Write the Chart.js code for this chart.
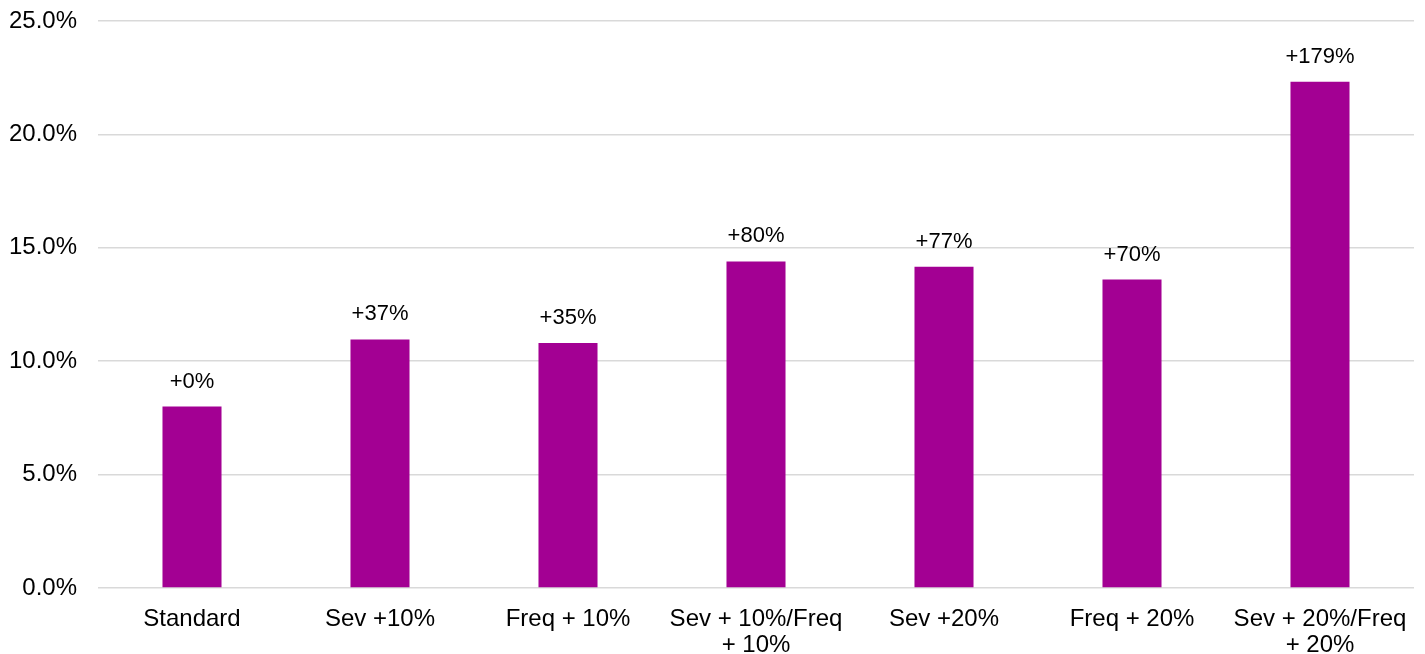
<!DOCTYPE html>
<html>
<head>
<meta charset="utf-8">
<script src="https://cdn.jsdelivr.net/npm/chart.js@4"></script>
<style>
  html, body { margin: 0; padding: 0; background: #fff; }
  #wrap { width: 1425px; height: 654px; }
</style>
</head>
<body>
<div id="wrap"><canvas id="c"></canvas></div>
<script>
const categories = [
  'Standard',
  'Sev +10%',
  'Freq + 10%',
  ['Sev + 10%/Freq', '+ 10%'],
  'Sev +20%',
  'Freq + 20%',
  ['Sev + 20%/Freq', '+ 20%']
];
const lossRatio = [8.0, 10.96, 10.8, 14.4, 14.16, 13.6, 22.32];
const changeLabels = ['+0%', '+37%', '+35%', '+80%', '+77%', '+70%', '+179%'];
const yTicks = [0, 5, 10, 15, 20, 25];

const FONT = "'Liberation Sans', Arial, sans-serif";

// Writes the change label above each bar
const barLabels = {
  id: 'barLabels',
  afterDatasetsDraw(chart) {
    const ctx = chart.ctx;
    const meta = chart.getDatasetMeta(0);
    ctx.save();
    ctx.font = '22px ' + FONT;
    ctx.fillStyle = '#000';
    ctx.textAlign = 'center';
    ctx.textBaseline = 'middle';
    meta.data.forEach((bar, i) => {
      ctx.fillText(changeLabels[i], bar.x, bar.y - 25);
    });
    ctx.restore();
  }
};

new Chart(document.getElementById('c'), {
  type: 'bar',
  data: {
    labels: categories,
    datasets: [{
      data: lossRatio,
      backgroundColor: '#A30093',
      barPercentage: 0.314,
      categoryPercentage: 1
    }]
  },
  options: {
    responsive: true,
    maintainAspectRatio: false,
    animation: false,
    layout: { padding: { top: 21, right: 11, left: 0, bottom: 0 } },
    plugins: { legend: { display: false }, tooltip: { enabled: false } },
    scales: {
      x: {
        grid: { display: false, drawTicks: false },
        border: { display: false },
        ticks: {
          color: '#000',
          font: { family: FONT, size: 24, lineHeight: 1.1 },
          padding: 18,
          maxRotation: 0,
          autoSkip: false
        },
        afterFit(scale) {
          scale.height = 66;
          scale.paddingLeft = 0;
          scale.paddingRight = 0;
        }
      },
      y: {
        min: 0,
        max: 25,
        afterBuildTicks(scale) { scale.ticks = yTicks.map(v => ({ value: v })); },
        grid: { color: '#d9d9d9', lineWidth: 1.5, drawTicks: false },
        border: { display: false },
        ticks: {
          color: '#000',
          font: { family: FONT, size: 24 },
          padding: 21,
          callback: v => v.toFixed(1) + '%'
        },
        afterFit(scale) {
          scale.width = 98;
          scale.paddingTop = 0;
          scale.paddingBottom = 0;
        }
      }
    }
  },
  plugins: [barLabels]
});
</script>
</body>
</html>
